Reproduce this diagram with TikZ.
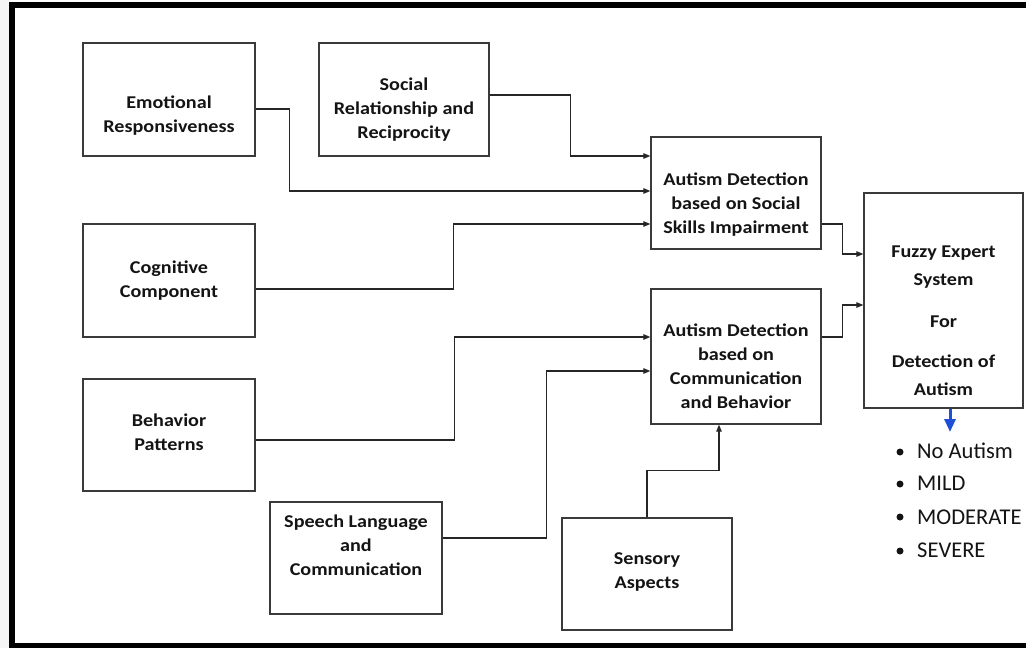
\documentclass[tikz,border=0pt]{standalone}
\usepackage{fontspec}
\setmainfont{Carlito}
\newfontfamily\boxfont[FakeStretch=1.12,BoldFont=Carlito Bold]{Carlito}
\usetikzlibrary{arrows.meta,calc}
\definecolor{boxline}{HTML}{3A3A3A}
\definecolor{txt}{HTML}{141414}
\definecolor{bluearr}{HTML}{1E4FD8}
\tikzset{
  box/.style={draw=boxline, line width=1.3pt, rectangle, inner sep=0pt},
  btxt/.style={font=\boxfont\bfseries\fontsize{18}{24}\selectfont, align=center, text=txt, inner sep=0pt},
  conn/.style={draw=black!85, line width=1.1pt, -{Triangle[length=7pt,width=5.5pt]}},
  item/.style={font=\fontsize{22.5}{24}\selectfont, anchor=west, text=txt, inner sep=0pt},
  dot/.style={circle, fill=txt, inner sep=0pt, minimum size=7pt},
}
\begin{document}
\begin{tikzpicture}[x=1pt,y=-1pt]
\useasboundingbox (0,0) rectangle (1026,648);
\fill[white] (0,0) rectangle (1026,648);
\fill[gray!8] (0,0) rectangle (9,648);
% frame
\fill[black] (9,2) rectangle (1026,8);
\fill[black] (9,2) rectangle (15,648);
\fill[black] (9,643) rectangle (1026,648);
% boxes
\node[box, minimum width=172pt, minimum height=113pt] (emo) at (169,99.5) {};
\node[btxt] (emot) at (169,116) {Emotional\\Responsiveness};
\node[box, minimum width=170pt, minimum height=113pt] (soc) at (404,99.5) {};
\node[btxt] (soct) at (404,110) {Social\\Relationship and\\Reciprocity};
\node[box, minimum width=172pt, minimum height=113pt] (cog) at (169,280.5) {};
\node[btxt] (cogt) at (169,280.5) {Cognitive\\Component};
\node[box, minimum width=172pt, minimum height=112pt] (beh) at (169,435) {};
\node[btxt] (beht) at (169,432.5) {Behavior\\Patterns};
\node[box, minimum width=172pt, minimum height=112pt] (sp) at (356,558) {};
\node[btxt] (spt) at (356,545) {Speech Language\\and\\Communication};
\node[box, minimum width=170pt, minimum height=112pt] (sen) at (647,574) {};
\node[btxt] (sent) at (647,572.5) {Sensory\\Aspects};
\node[box, minimum width=170pt, minimum height=112pt] (ads) at (736,193) {};
\node[btxt] (adst) at (736,204.5) {Autism Detection\\based on Social\\Skills Impairment};
\node[box, minimum width=170pt, minimum height=135pt] (adc) at (736,356.5) {};
\node[btxt] (adct) at (736,366.5) {Autism Detection\\based on\\Communication\\and Behavior};
\node[box, minimum width=159pt, minimum height=215pt] (fz) at (943.5,300.5) {};
\node[btxt, font=\boxfont\bfseries\fontsize{18}{28}\selectfont] (fzt) at (943.5,320.5) {Fuzzy Expert\\System\\[14pt]For\\[12pt]Detection of\\Autism};
% connectors
\draw[conn] ($(emo.east)+(0,9.5)$) -- ++(34,0) |- ($(ads.west)+(0,-2)$);
\draw[conn] ($(soc.east)+(0,-4.5)$) -- ++(81,0) |- ($(ads.west)+(0,-37)$);
\draw[conn] ($(cog.east)+(0,8.5)$) -- ++(198,0) |- ($(ads.west)+(0,31)$);
\draw[conn] ($(beh.east)+(0,5)$) -- ++(199,0) |- ($(adc.west)+(0,-19.5)$);
\draw[conn] ($(sp.east)+(0,-20)$) -- ++(104,0) |- ($(adc.west)+(0,14.5)$);
\draw[conn] (sen.north) -- ++(0,-47) -| ($(adc.south)+(-17,0)$);
\draw[conn] ($(ads.east)+(0,31)$) -- ++(21,0) |- ($(fz.west)+(0,-46.5)$);
\draw[conn] ($(adc.east)+(0,-19.5)$) -- ++(21,0) |- ($(fz.west)+(0,4.5)$);
\coordinate (bl) at (950,432);
\draw[draw=bluearr, line width=3pt, -{Triangle[length=13pt,width=11pt]}] ($(fz.south)+(6.5,0)$) -- (bl);
% outcome list
\node[dot] (b1) at (900,452) {};
\node[item] (i1) at (917,451) {No Autism};
\node[dot] (b2) at (900,484) {};
\node[item] (i2) at (917,483.5) {MILD};
\node[dot] (b3) at (900,517) {};
\node[item] (i3) at (917,517) {MODERATE};
\node[dot] (b4) at (900,551) {};
\node[item] (i4) at (917,550.5) {SEVERE};
\end{tikzpicture}
\end{document}
